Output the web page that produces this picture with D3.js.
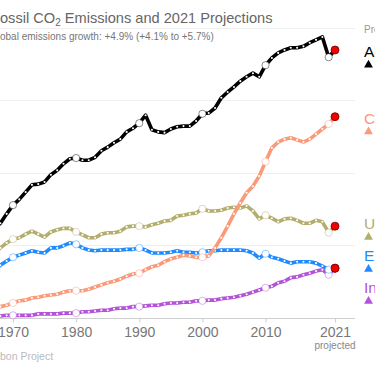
<!DOCTYPE html>
<html><head><meta charset="utf-8">
<script src="https://cdn.jsdelivr.net/npm/d3@7/dist/d3.min.js"></script>
<style>
body{margin:0;background:#fff;overflow:hidden}
svg{display:block;font-family:"Liberation Sans",Arial,Helvetica,sans-serif}
</style>
</head><body>
<svg id="chart" width="375" height="366"></svg>
<script>
// ---- data ----
const firstYear = 1966;
const world = [11.4,12.2,13.0,14.3,15.5,16.3,17.3,18.3,18.4,18.7,19.7,20.3,21.2,21.9,22.0,21.7,21.7,22.1,23.0,23.5,24.1,24.6,25.6,26.1,26.8,27.9,25.9,25.6,25.5,26.0,26.3,26.4,26.4,27.1,28.1,28.2,28.9,30.3,31.1,31.8,32.6,33.2,33.7,33.2,34.8,35.8,36.5,36.9,37.2,37.2,37.4,37.9,38.3,38.7,35.9,36.9];
const china = [1.2,1.2,1.5,1.7,2.0,2.3,2.4,2.7,2.8,3.0,3.1,3.2,3.5,3.7,3.7,3.7,3.9,4.2,4.5,4.8,5.0,5.3,5.7,6.0,6.1,6.6,7.0,7.2,7.7,8.1,8.3,8.6,8.5,8.3,8.3,8.5,9.6,11.0,12.6,14.3,15.8,17.2,18.1,19.5,21.5,23.4,24.2,24.6,24.8,24.5,24.2,24.6,25.3,26.0,26.7,27.7];
const usa = [8.5,8.9,9.6,10.3,10.8,11.0,11.5,11.9,11.5,11.1,11.8,12.1,12.3,12.3,11.8,11.4,11.0,11.0,11.5,11.7,11.7,11.9,12.5,12.6,12.6,12.5,12.8,13.0,13.3,13.4,14.0,14.1,14.3,14.4,15.0,14.7,14.7,14.8,15.1,15.2,15.1,15.4,14.7,13.6,14.1,13.7,13.2,13.6,13.7,13.4,13.0,13.0,13.4,13.2,11.7,12.6];
const eu = [6.3,6.6,7.2,7.8,8.3,8.6,8.9,9.2,9.0,8.9,9.6,9.6,9.9,10.3,10.1,9.6,9.3,9.2,9.3,9.3,9.3,9.3,9.4,9.4,9.6,9.3,8.9,8.9,8.9,9.0,9.2,9.0,9.0,8.9,9.0,9.2,9.2,9.3,9.3,9.3,9.3,9.2,8.9,8.2,8.8,8.3,8.1,7.8,7.5,7.7,7.7,7.7,7.5,7.1,6.6,6.8];
const india = [0.2,0.2,0.2,0.3,0.3,0.3,0.3,0.3,0.5,0.5,0.5,0.5,0.6,0.6,0.6,0.8,0.8,0.9,1.0,1.0,1.2,1.3,1.3,1.5,1.5,1.6,1.7,1.7,1.9,2.0,2.0,2.1,2.1,2.3,2.3,2.4,2.4,2.6,2.7,2.8,3.0,3.2,3.5,3.8,4.1,4.3,4.8,5.0,5.5,5.6,5.9,6.1,6.4,6.6,5.9,6.8];
const seriesNames = ["All", "China", "USA", "EU27", "India"];
const seriesColors = ["#000000", "#fb9a79", "#b4ae6c", "#1f8bff", "#b552da"];
const seriesGrowth = ["+4.9%", "+4.0%", "+7.6%", "+7.6%", "+12.6%"];
const circleYears = [1970, 1980, 1990, 2000, 2010, 2020];
const tickYears = [1970, 1980, 1990, 2000, 2010, 2021];
const tickLabels = ["1970", "1980", "1990", "2000", "2010", "2021"];
const gridValues = [0, 10, 20, 30, 40];
const titleText = "Fossil CO";
const titleRest = " Emissions and 2021 Projections";
const subtitleText = "Global emissions growth: +4.9% (+4.1% to +5.7%)";
const sourceText = "Source: Global Carbon Project";
const legendHeader = "Projected 2021";

// ---- chart ----
const svg = d3.select("#chart");
const x = d3.scaleLinear().domain([1970, 2021]).range([13, 335]);
const y = d3.scaleLinear().domain([0, 40]).range([317.5, 27.5]);
const plotRight = 355;

function measure(txt, size) {
  const t = svg.append("text").attr("font-size", size).text(txt);
  const w = t.node().getComputedTextLength();
  t.remove();
  return w;
}

// title
const fW = measure("F", 14.6);
const title = svg.append("text").attr("x", -fW).attr("y", 23).attr("font-size", 14.6).attr("fill", "#666");
title.append("tspan").text(titleText);
title.append("tspan").attr("font-size", 10).attr("dy", 3).text("2");
title.append("tspan").attr("dy", -3).text(titleRest);

const glW = measure("Gl", 10);
svg.append("text").attr("x", -glW).attr("y", 40).attr("font-size", 10).attr("fill", "#777").text(subtitleText);

const srcW = measure("Source: Global Car", 10.5);
svg.append("text").attr("x", -srcW).attr("y", 360).attr("font-size", 10.5).attr("fill", "#bbb").text(sourceText);

// grid
svg.append("g").selectAll("line").data(gridValues).join("line")
  .attr("x1", -20).attr("x2", plotRight)
  .attr("y1", d => Math.round(y(d)) + 0.5).attr("y2", d => Math.round(y(d)) + 0.5)
  .attr("stroke", d => d === 0 ? "#cfcfcf" : "#efefef").attr("stroke-width", 1);

// x axis
const xAxis = d3.axisBottom(x).tickValues(tickYears).tickFormat((d, i) => tickLabels[i]).tickSize(4).tickPadding(5);
const gx = svg.append("g").attr("transform", `translate(0,${Math.round(y(0)) + 0.5})`).call(xAxis);
gx.select(".domain").remove();
gx.selectAll(".tick line").attr("stroke", "#cfcfcf");
gx.selectAll(".tick text").attr("font-size", 14).attr("fill", "#777").attr("font-family", null);
svg.append("text").attr("x", x(2021)).attr("y", 349).attr("text-anchor", "middle")
  .attr("font-size", 10).attr("fill", "#888").text("projected");

// series
const allSeries = [world, china, usa, eu, india];
const line = d3.line().x(d => x(d.year)).y(d => y(d.v));
const drawOrder = [4, 3, 2, 1, 0];
drawOrder.forEach(si => {
  const pts = allSeries[si].map((v, i) => ({year: firstYear + i, v}));
  const g = svg.append("g");
  g.append("path").datum(pts).attr("d", line).attr("fill", "none")
    .attr("stroke", seriesColors[si]).attr("stroke-width", 3.6).attr("stroke-linejoin", "round");
  g.selectAll("circle.yr").data(pts.filter(p => !circleYears.includes(p.year) && p.year < 2021)).join("circle")
    .attr("class", "yr").attr("cx", d => x(d.year)).attr("cy", d => y(d.v)).attr("r", 1.05).attr("fill", "#fff");
  g.selectAll("circle.dec").data(pts.filter(p => circleYears.includes(p.year))).join("circle")
    .attr("class", "dec").attr("cx", d => x(d.year)).attr("cy", d => y(d.v)).attr("r", 3.6)
    .attr("fill", "#fff").attr("stroke", seriesColors[si]).attr("stroke-opacity", 0.45).attr("stroke-width", 1);
  const last = pts[pts.length - 1];
  g.append("circle").attr("cx", x(last.year)).attr("cy", y(last.v)).attr("r", 4)
    .attr("fill", "#f00000").attr("stroke", "#700").attr("stroke-width", 0.8);
});

// legend
const legendX = 364;
svg.append("text").attr("x", legendX).attr("y", 33).attr("font-size", 10).attr("fill", "#999").text(legendHeader);
// label positions with simple collision avoidance
const labels = allSeries.map((s, i) => ({i, pos: y(s[s.length - 1]) + 7}));
labels.sort((a, b) => a.pos - b.pos);
const gap = 32;
let groups = labels.map(l => ({items: [l], start: l.pos}));
let changed = true;
while (changed) {
  changed = false;
  for (let k = 0; k < groups.length - 1; k++) {
    const a = groups[k], b = groups[k + 1];
    if (a.start + (a.items.length - 1) * gap + gap > b.start) {
      const items = a.items.concat(b.items);
      const mean = d3.mean(items, d => d.pos);
      const start = mean - (items.length - 1) * gap / 2;
      groups.splice(k, 2, {items, start});
      changed = true;
      break;
    }
  }
}
groups.forEach(gr => gr.items.forEach((it, j) => it.y = gr.start + j * gap));
labels.forEach(l => {
  svg.append("text").attr("x", legendX).attr("y", l.y).attr("font-size", 15.5)
    .attr("fill", seriesColors[l.i]).text(seriesNames[l.i]);
  svg.append("path").attr("d", d3.symbol(d3.symbolTriangle, 34)())
    .attr("transform", `translate(${legendX + 4.5},${l.y + 8})`).attr("fill", seriesColors[l.i]);
  svg.append("text").attr("x", legendX + 12).attr("y", l.y + 11).attr("font-size", 10)
    .attr("fill", seriesColors[l.i]).text(seriesGrowth[l.i]);
});
</script>
</body></html>
